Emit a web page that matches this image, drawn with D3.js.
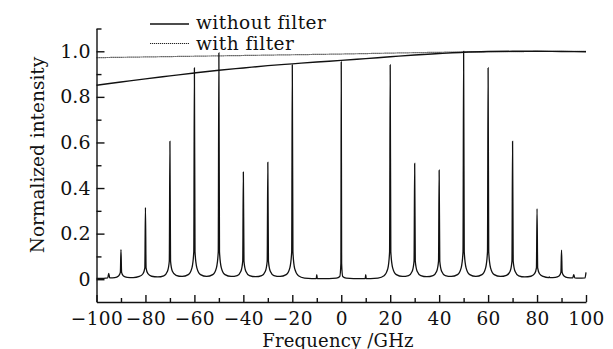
<!DOCTYPE html>
<html><head><meta charset="utf-8">
<script src="https://cdn.jsdelivr.net/npm/d3@7/dist/d3.min.js"></script>
<style>
html,body{margin:0;padding:0;background:#fff;}
text{font-family:"DejaVu Serif",serif;fill:#111;}
</style></head>
<body><svg id="c" width="613" height="349"></svg>
<script>
// ---- data ----
const xMajorTicks = [-100,-80,-60,-40,-20,0,20,40,60,80,100];
const xMinorTicks = [-90,-70,-50,-30,-10,10,30,50,70,90];
const yMajorTicks = [0,0.2,0.4,0.6,0.8,1.0];
const yMinorTicks = [0.1,0.3,0.5,0.7,0.9,1.1];

// envelope without filter (solid)
const envNoFilterF = [-100,-90,-80,-70,-60,-50,-40,-30,-20,-10,0,10,20,30,40,50,60,70,80,90,100];
const envNoFilterI = [0.851,0.865,0.879,0.892,0.905,0.917,0.927,0.937,0.945,0.953,0.960,0.968,0.976,0.984,0.990,0.996,0.999,1.0,1.0,0.999,0.998];
// envelope with filter (dotted)
const envFilterF = [-100,-75,-50,-25,0,25,50,75,100];
const envFilterI = [0.972,0.976,0.980,0.984,0.988,0.993,0.997,0.999,1.0];

// spectrum (frequency GHz, normalized intensity)
const spectrum = [
 [-100,0.004],[-97,0.004],[-95.4,0.006],[-95,0.025],[-94.6,0.006],[-92.5,0.007],[-91,0.014],[-90.25,0.03],[-90,0.13],[-89.75,0.03],[-89,0.014],[-87.5,0.008],
 [-85,0.007],[-82.5,0.012],[-81,0.024],[-80.25,0.05],[-80,0.315],[-79.75,0.05],[-79,0.024],[-77.5,0.013],
 [-75,0.01],[-72.5,0.015],[-71,0.035],[-70.25,0.08],[-70,0.605],[-69.75,0.08],[-69,0.035],[-67.5,0.017],
 [-65,0.012],[-62.5,0.02],[-61,0.05],[-60.25,0.12],[-60,0.927],[-59.75,0.12],[-59,0.05],[-57.5,0.02],
 [-55,0.012],[-52.5,0.02],[-51,0.05],[-50.25,0.12],[-50,0.993],[-49.75,0.12],[-49,0.05],[-47.5,0.02],
 [-45,0.012],[-42.5,0.016],[-41,0.035],[-40.25,0.08],[-40,0.47],[-39.75,0.08],[-39,0.035],[-37.5,0.016],
 [-35,0.011],[-32.5,0.016],[-31,0.035],[-30.25,0.08],[-30,0.513],[-29.75,0.08],[-29,0.035],[-27.5,0.016],
 [-25,0.012],[-22.5,0.02],[-21,0.05],[-20.25,0.12],[-20,0.94],[-19.75,0.12],[-19,0.045],[-17.5,0.015],
 [-15,0.005],[-12,0.003],[-10.2,0.003],[-10,0.02],[-9.8,0.003],[-5,0.003],[-2,0.005],[-0.6,0.012],[-0.15,0.07],
 [0,0.953],
 [0.15,0.07],[0.6,0.012],[2,0.005],[5,0.003],[9.8,0.003],[10,0.02],[10.2,0.003],[12,0.003],[15,0.005],
 [17.5,0.015],[19,0.045],[19.75,0.12],[20,0.94],[20.25,0.12],[21,0.05],[22.5,0.02],
 [25,0.012],[27.5,0.016],[29,0.035],[29.75,0.08],[30,0.508],[30.25,0.08],[31,0.035],[32.5,0.016],
 [35,0.011],[37.5,0.016],[39,0.035],[39.75,0.08],[40,0.478],[40.25,0.08],[41,0.035],[42.5,0.016],
 [45,0.012],[47.5,0.02],[49,0.05],[49.75,0.12],[50,1.0],[50.25,0.12],[51,0.05],[52.5,0.02],
 [55,0.012],[57.5,0.02],[59,0.05],[59.75,0.12],[60,0.927],[60.25,0.12],[61,0.05],[62.5,0.02],
 [65,0.012],[67.5,0.017],[69,0.035],[69.75,0.08],[70,0.605],[70.25,0.08],[71,0.035],[72.5,0.015],
 [75,0.01],[77.5,0.013],[79,0.024],[79.75,0.05],[80,0.31],[80.25,0.05],[81,0.024],[82.5,0.012],
 [84.7,0.007],[85,0.01],[85.3,0.007],[87.5,0.008],[89,0.014],[89.75,0.03],[90,0.128],[90.25,0.03],[91,0.014],[92.5,0.007],
 [94.6,0.006],[95,0.02],[95.4,0.006],[97,0.005],[99.6,0.006],[100,0.03]
];

const legendLabels = ["without filter","with filter"];

// ---- drawing ----
const svg = d3.select("#c");
const x = d3.scaleLinear().domain([-100,100]).range([96.5,586]);
const y = d3.scaleLinear().domain([-0.1,1.1]).range([302,28.5]);

const fmtX = d3.format("d");
const fmtY = d => d === 0 ? "0" : d3.format(".1f")(d);

// x axis
const gx = svg.append("g").attr("transform",`translate(0,${y(-0.1)})`);
gx.call(d3.axisBottom(x).tickValues(xMajorTicks).tickSizeInner(-7).tickSizeOuter(0).tickPadding(0).tickFormat(fmtX));
gx.selectAll(".tick text").attr("y",22.5).attr("dy",null).style("font-size","18.5px").style("letter-spacing","0.4px").style("font-family","DejaVu Serif");
const gxm = svg.append("g").attr("transform",`translate(0,${y(-0.1)})`);
gxm.call(d3.axisBottom(x).tickValues(xMinorTicks).tickSizeInner(-4).tickSizeOuter(0).tickFormat(""));
gxm.select(".domain").remove();

// y axis
const gy = svg.append("g").attr("transform",`translate(${x(-100)},0)`);
gy.call(d3.axisLeft(y).tickValues(yMajorTicks).tickSizeInner(-8).tickSizeOuter(0).tickPadding(6).tickFormat(fmtY));
gy.selectAll(".tick text").style("font-size","19px").style("font-family","DejaVu Serif");
const gym = svg.append("g").attr("transform",`translate(${x(-100)},0)`);
gym.call(d3.axisLeft(y).tickValues(yMinorTicks).tickSizeInner(-5).tickSizeOuter(0).tickFormat(""));
gym.select(".domain").remove();
svg.selectAll(".domain, .tick line").attr("stroke","#111").attr("stroke-width",1.4);

// titles
svg.append("text").attr("x",338).attr("y",346.5).attr("text-anchor","middle")
  .style("font-size","18px").style("letter-spacing","0.2px").text("Frequency /GHz");
svg.append("text").attr("transform","translate(44,155) rotate(-90)").attr("text-anchor","middle")
  .style("font-size","18.5px").text("Normalized intensity");

// lines
const line = d3.line().x(d=>x(d[0])).y(d=>y(d[1])).curve(d3.curveMonotoneX);

svg.append("path").datum(d3.zip(envFilterF,envFilterI)).attr("d",line)
  .attr("fill","none").attr("stroke","#222").attr("stroke-width",1.2).attr("stroke-dasharray","1.2,0.8");
svg.append("path").datum(d3.zip(envNoFilterF,envNoFilterI)).attr("d",line)
  .attr("fill","none").attr("stroke","#111").attr("stroke-width",1.4);
svg.append("path").datum(spectrum).attr("d",line)
  .attr("fill","none").attr("stroke","#111").attr("stroke-width",1.3);

// legend
const lg = svg.append("g");
[[24,28.5],[43.5,50]].forEach((p,i)=>{
  lg.append("line").attr("x1",150).attr("x2",189).attr("y1",p[0]).attr("y2",p[0])
    .attr("stroke", i===0?"#111":"#222").attr("stroke-width", i===0?1.3:1.2)
    .attr("stroke-dasharray", i===0?null:"1.2,0.8");
  lg.append("text").attr("x",196).attr("y",p[1]).style("font-size","18.5px").style("letter-spacing","0.5px").text(legendLabels[i]);
});
</script></body></html>
